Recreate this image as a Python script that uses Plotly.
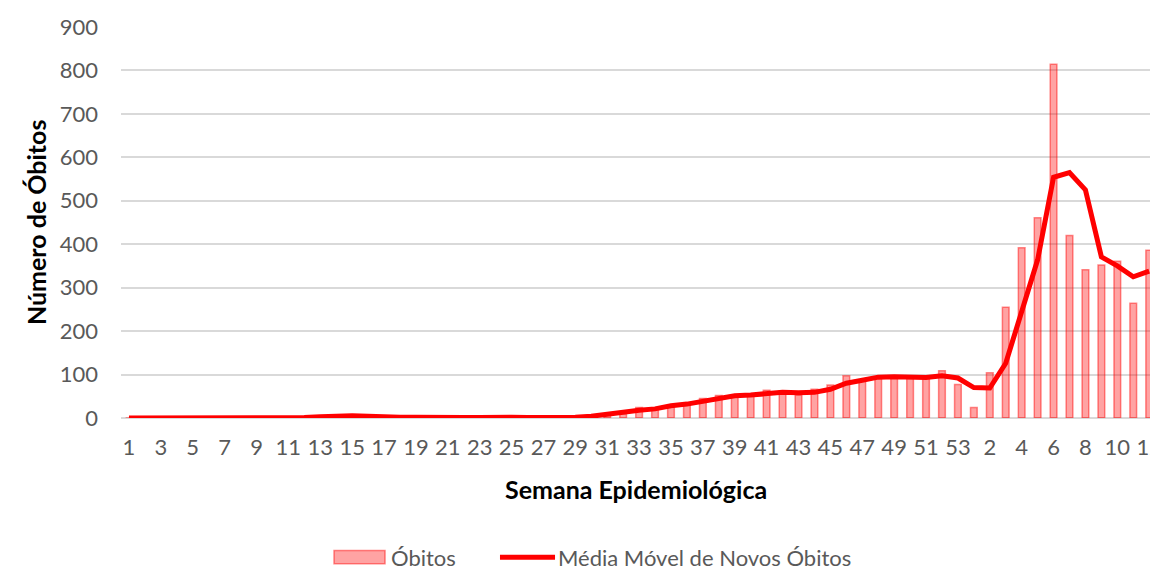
import plotly.graph_objects as go

# Semanas epidemiológicas: 1–53 de 2020 seguidas de 1–12 de 2021
semanas = [str(s) for s in range(1, 54)] + [str(s) for s in range(1, 13)]

# Óbitos semanais
obitos = [
    0, 0, 0, 0, 0, 0, 0, 0, 0, 0,
    1, 2, 5, 7, 5, 3, 2, 1, 2, 1,
    1, 1, 2, 2, 2, 1, 1, 2, 3, 5,
    8, 10, 24, 20, 30, 31, 45, 52, 52, 55,
    64, 63, 53, 66, 76, 97, 85, 95, 95, 95,
    93, 109, 77,
    24, 104, 255, 392, 461, 814, 420, 341, 352, 361, 264, 386,
]

# Média móvel de novos óbitos
media_movel = [
    0, 0, 0, 0, 0, 0, 0, 0, 0, 0,
    1, 1, 3, 5, 5, 4, 2, 2, 2, 1,
    1, 1, 1, 2, 2, 1, 1, 1, 2, 4,
    9, 12, 18, 21, 28, 32, 39, 45, 51, 53,
    57, 59, 58, 59, 66, 80, 87, 94, 95, 95,
    93, 97, 92,
    70, 69, 126, 241, 364, 554, 565, 525, 371, 350, 325, 338,
]

y_ticks = [0, 100, 200, 300, 400, 500, 600, 700, 800, 900]

FONT = "Lato"
GREY = "#595959"
BAR_FILL = "rgba(255,0,0,0.36)"
BAR_EDGE = "rgba(255,0,0,0.45)"
RED = "#ff0000"

pos = list(range(len(semanas)))

fig = go.Figure()
fig.add_trace(go.Bar(
    x=pos, y=obitos, name="Óbitos", width=0.42,
    marker=dict(color=BAR_FILL, line=dict(color=BAR_EDGE, width=1.5)),
    showlegend=False,
))
fig.add_trace(go.Scatter(
    x=pos, y=media_movel, name="Média Móvel de Novos Óbitos", mode="lines",
    line=dict(color=RED, width=5), showlegend=False,
))

fig.update_layout(
    width=1150, height=571,
    margin=dict(l=121, r=0, t=27, b=153),
    paper_bgcolor="white", plot_bgcolor="white",
    font=dict(family=FONT, size=22, color=GREY),
    xaxis=dict(
        range=[-0.5, 64.05], automargin=False,
        tickvals=pos[::2], ticktext=semanas[::2],
        showgrid=False, zeroline=False, showline=False,
        ticks="", ticklabelstandoff=14, ticklabeloverflow="allow",
        tickfont=dict(family=FONT, size=22, color=GREY),
    ),
    yaxis=dict(
        range=[0, 900], tickvals=y_ticks, automargin=False,
        showgrid=True, gridcolor="#d9d9d9", gridwidth=1.5,
        zeroline=True, zerolinecolor="#d9d9d9", zerolinewidth=1.5,
        showline=False, ticks="", ticklabelstandoff=22,
        tickfont=dict(family=FONT, size=22, color=GREY),
    ),
    bargap=0.6,
)

# Títulos dos eixos
fig.add_annotation(
    text="<b>Semana Epidemiológica</b>", xref="paper", yref="paper",
    x=0.5, y=-0.182, xanchor="center", yanchor="middle", showarrow=False,
    font=dict(family=FONT, size=25, color="black"),
)
fig.add_annotation(
    text="<b>Número de Óbitos</b>", xref="paper", yref="paper",
    x=-0.083, y=0.5, xanchor="center", yanchor="middle", textangle=-90,
    showarrow=False, font=dict(family=FONT, size=25, color="black"),
)

# Legenda desenhada abaixo do gráfico
leg_y = -0.356
fig.add_shape(
    type="rect", xref="paper", yref="paper",
    x0=0.2070, x1=0.2566, y0=leg_y - 0.017, y1=leg_y + 0.017,
    fillcolor=BAR_FILL, line=dict(color=BAR_EDGE, width=1.5),
)
fig.add_annotation(
    text="Óbitos", xref="paper", yref="paper",
    x=0.2600, y=leg_y, xanchor="left", yanchor="middle", showarrow=False,
    font=dict(family=FONT, size=22, color=GREY),
)
fig.add_shape(
    type="line", xref="paper", yref="paper",
    x0=0.3683, x1=0.4218, y0=leg_y, y1=leg_y,
    line=dict(color=RED, width=5),
)
fig.add_annotation(
    text="Média Móvel de Novos Óbitos", xref="paper", yref="paper",
    x=0.4230, y=leg_y, xanchor="left", yanchor="middle", showarrow=False,
    font=dict(family=FONT, size=22, color=GREY),
)

fig.write_html("out.html")
